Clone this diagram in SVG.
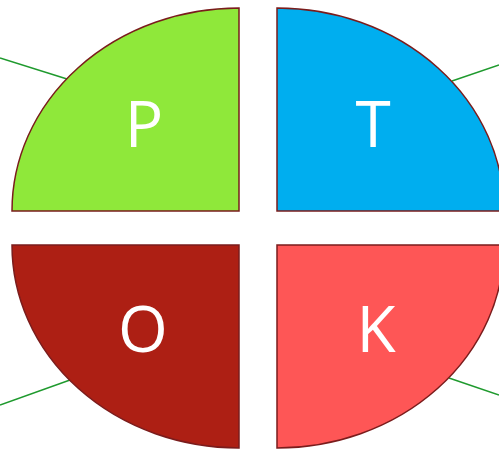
<svg xmlns="http://www.w3.org/2000/svg" width="499" height="449" viewBox="0 0 499 449">
<style>
.q{stroke:#7a1c1c;stroke-width:1.5}
.lbl{font-family:"Open Sans","Noto Sans",sans-serif;font-size:64px;fill:#ffffff;text-anchor:middle}
.c{stroke:#1f9a2e;stroke-width:1.5;fill:none}
</style>
<rect width="499" height="449" fill="#ffffff"/>
<g id="connectors">
<line class="c" x1="0" y1="58" x2="67" y2="79"/>
<line class="c" x1="452" y1="81" x2="499" y2="65"/>
<line class="c" x1="0" y1="405" x2="70" y2="380"/>
<line class="c" x1="449" y1="378" x2="499" y2="395"/>
</g>
<g id="P">
<path class="q" fill="#8fe83a" d="M239,8 L239,211 L12,211 A227,203 0 0 1 239,8 Z"/>
<text class="lbl" x="144" y="147">P</text>
</g>
<g id="T">
<path class="q" fill="#00aeef" d="M277,8 A227,203 0 0 1 504,211 L277,211 Z"/>
<text class="lbl" x="373" y="147">T</text>
</g>
<g id="O">
<path class="q" fill="#ad1f14" d="M12,245 L239,245 L239,448 A227,203 0 0 1 12,245 Z"/>
<text class="lbl" x="143" y="352">O</text>
</g>
<g id="K">
<path class="q" fill="#fe5656" d="M277,245 L504,245 A227,203 0 0 1 277,448 Z"/>
<text class="lbl" x="376" y="352">K</text>
</g>
</svg>
